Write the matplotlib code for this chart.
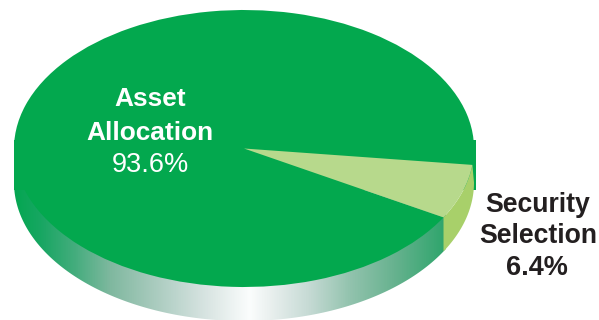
import numpy as np
import matplotlib
matplotlib.use('Agg')
import matplotlib.pyplot as plt
from matplotlib.colors import LinearSegmentedColormap
from matplotlib.patches import Polygon, Rectangle

# allocation shares in percent
names = ['Asset\nAllocation', 'Security\nSelection']
shares = [93.6, 6.4]
share_labels = ['93.6%', '6.4%']

# layout of the disc, in pixels
W, H = 599, 320
CX, CY = 244, 148.5
RX, RY = 230, 138.5
DEPTH = 34
START = -6.8

FACE = ['#03a84e', '#b7d98c']
SIDE_LIME = '#a8d06a'
DARK = '#231f20'

# shading around the rim, left to right
rim_stops = [
    (14, '#04a751'), (40, '#17a662'), (75, '#45ad7e'), (110, '#7fb89f'),
    (150, '#a5c9bb'), (200, '#d3e1de'), (250, '#fbfdfd'), (270, '#eaf0ef'),
    (310, '#c5dad4'), (350, '#93c3ae'), (395, '#67b28f'), (446, '#2ea56c'),
]

def ux(px):
    return (px - CX) / RX

def uy(py):
    return (CY - py) / RY

def arc(t1, t2, drop=0.0):
    t = np.radians(np.linspace(t1, t2, 200))
    return np.column_stack([np.cos(t), np.sin(t) - drop])

fig = plt.figure(figsize=(W / 100, H / 100), dpi=100)
ax = fig.add_axes([0, 0, 1, 1])
drop = DEPTH / RY

# rim gradient, clipped to the lower half of the dropped ellipse
xs = np.array([s[0] for s in rim_stops], dtype=float)
pos = (xs - xs[0]) / (xs[-1] - xs[0])
cmap = LinearSegmentedColormap.from_list('rim', list(zip(pos, [s[1] for s in rim_stops])))
rim = ax.imshow(np.linspace(0, 1, 512)[None, :], cmap=cmap, aspect='auto', zorder=1,
                extent=(ux(14), ux(446), uy(H), uy(CY)))
rim_clip = Polygon(arc(180, 360, drop), closed=True, transform=ax.transData)
rim.set_clip_path(rim_clip)

# flat block behind the disc edge, the lime part of the rim goes over it
ax.add_patch(Rectangle((ux(14), uy(190)), ux(476) - ux(14), uy(140) - uy(190),
                       fc=FACE[0], lw=0, zorder=2))

wedges, _ = ax.pie(shares, startangle=START, colors=FACE, radius=1,
                   wedgeprops={'linewidth': 0, 'zorder': 4})
ax.set_aspect('auto')

# rim under the small slice
t1 = wedges[1].theta1 - 360
side = np.vstack([arc(START, t1), arc(t1, 0, drop)])
ax.add_patch(Polygon(side, closed=True, fc=SIDE_LIME, lw=0, zorder=3))

ax.set_xlim(ux(0), ux(W))
ax.set_ylim(uy(H), uy(0))
ax.axis('off')

font = ['Liberation Sans', 'DejaVu Sans']
ax.text(ux(150), uy(116), names[0], color='white', fontsize=18.9, fontweight='bold',
        family=font, ha='center', va='center', linespacing=1.5, zorder=5)
ax.text(ux(150), uy(165), share_labels[0], color='white', fontsize=19.5,
        family=font, ha='center', va='center', zorder=5)
ax.text(ux(538), uy(220.5), names[1], color=DARK, fontsize=19.2, fontweight='bold',
        family=font, ha='center', va='center', linespacing=1.21, zorder=5)
ax.text(ux(537), uy(268), share_labels[1], color=DARK, fontsize=19.5, fontweight='bold',
        family=font, ha='center', va='center', zorder=5)

fig.savefig('out.png', dpi=100)
